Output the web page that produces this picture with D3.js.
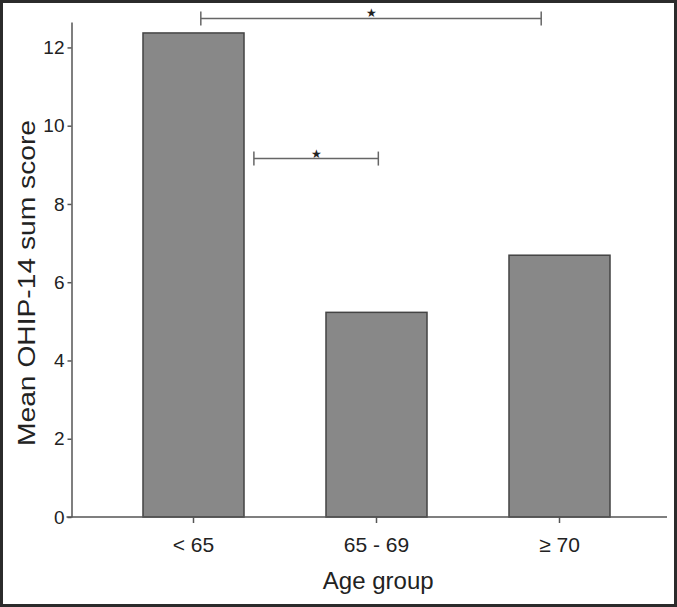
<!DOCTYPE html>
<html lang="en">
<head>
<meta charset="UTF-8">
<title>Mean OHIP-14 sum score by age group</title>
<script src="https://d3js.org/d3.v7.min.js"></script>
<style>
  html, body { margin: 0; padding: 0; background: #fff; }
  svg { display: block; font-family: "Liberation Sans", Arial, Helvetica, sans-serif; }
  .axis path, .axis line { stroke: #555; stroke-width: 1.5px; }
  .axis text { fill: #222; }
</style>
</head>
<body>
<script>
// data
var categories = ["< 65", "65 - 69", "\u2265 70"];
var meanScores = [12.37, 5.23, 6.69];
var yTicks = [0, 2, 4, 6, 8, 10, 12];
// significance brackets: positions in category-index units, height in score units
var bracketFrom = [0.04, 0.33];
var bracketTo = [1.9, 1.01];
var bracketLevel = [12.74, 9.16];

var W = 677, H = 607;
var plotLeft = 71.5, plotRight = 667, plotBottom = 517, plotTop = 22;

var svg = d3.select("body").append("svg")
    .attr("width", W)
    .attr("height", H);

svg.append("rect")
    .attr("x", 1.5).attr("y", 1.5)
    .attr("width", W - 3).attr("height", H - 3)
    .attr("fill", "#fff")
    .attr("stroke", "#2b2b2b")
    .attr("stroke-width", 3);

var y = d3.scaleLinear()
    .domain([0, 12.65])
    .range([plotBottom, plotTop]);

var x = d3.scaleBand()
    .domain(categories)
    .range([102, 651])
    .paddingInner(0.448)
    .paddingOuter(0.224);

var pos = function(i) {
    return x(categories[0]) + x.bandwidth() / 2 + i * x.step();
};

// bars
svg.selectAll(".bar")
    .data(meanScores)
  .enter().append("rect")
    .attr("class", "bar")
    .attr("x", function(d, i) { return x(categories[i]); })
    .attr("y", function(d) { return y(d); })
    .attr("width", x.bandwidth())
    .attr("height", function(d) { return y(0) - y(d); })
    .attr("fill", "#888888")
    .attr("stroke", "#444")
    .attr("stroke-width", 1.5);

// y axis
var yAxis = d3.axisLeft(y)
    .tickValues(yTicks)
    .tickSize(4)
    .tickSizeOuter(0)
    .tickPadding(3);

svg.append("g")
    .attr("class", "y axis")
    .attr("transform", "translate(" + plotLeft + ",0)")
    .call(yAxis)
    .selectAll("text")
    .style("font-size", "19px");

// x axis line spans the whole plot
svg.append("line")
    .attr("x1", plotLeft - 5).attr("x2", plotRight)
    .attr("y1", plotBottom).attr("y2", plotBottom)
    .attr("stroke", "#555")
    .attr("stroke-width", 1.5);

var xAxis = d3.axisBottom(x)
    .tickSize(6)
    .tickSizeOuter(0)
    .tickPadding(14);

var gx = svg.append("g")
    .attr("class", "x axis")
    .attr("transform", "translate(0," + plotBottom + ")")
    .call(xAxis);
gx.select(".domain").remove();
gx.selectAll("text").style("font-size", "21px");

// significance brackets
var br = svg.selectAll(".bracket")
    .data(bracketLevel)
  .enter().append("g")
    .attr("class", "bracket")
    .attr("stroke", "#666")
    .attr("stroke-width", 1.5);

br.append("line")
    .attr("x1", function(d, i) { return pos(bracketFrom[i]); })
    .attr("x2", function(d, i) { return pos(bracketTo[i]); })
    .attr("y1", function(d) { return y(d); })
    .attr("y2", function(d) { return y(d); });

br.append("line")
    .attr("x1", function(d, i) { return pos(bracketFrom[i]); })
    .attr("x2", function(d, i) { return pos(bracketFrom[i]); })
    .attr("y1", function(d) { return y(d) - 7; })
    .attr("y2", function(d) { return y(d) + 7; });

br.append("line")
    .attr("x1", function(d, i) { return pos(bracketTo[i]); })
    .attr("x2", function(d, i) { return pos(bracketTo[i]); })
    .attr("y1", function(d) { return y(d) - 7; })
    .attr("y2", function(d) { return y(d) + 7; });

br.append("text")
    .attr("x", function(d, i) { return (pos(bracketFrom[i]) + pos(bracketTo[i])) / 2; })
    .attr("y", function(d) { return y(d) - 1; })
    .attr("text-anchor", "middle")
    .attr("stroke", "none")
    .attr("fill", "#222")
    .style("font-size", "12px")
    .text("\u2605");

// axis titles
svg.append("text")
    .attr("x", (plotLeft + plotRight) / 2 + 9)
    .attr("y", 589)
    .attr("text-anchor", "middle")
    .style("font-size", "24px")
    .attr("fill", "#222")
    .text("Age group");

svg.append("text")
    .attr("transform", "translate(35," + 283 + ") rotate(-90)")
    .attr("text-anchor", "middle")
    .style("font-size", "23px")
    .attr("fill", "#222")
    .attr("textLength", 326)
    .attr("lengthAdjust", "spacingAndGlyphs")
    .text("Mean OHIP-14 sum score");
</script>
</body>
</html>
